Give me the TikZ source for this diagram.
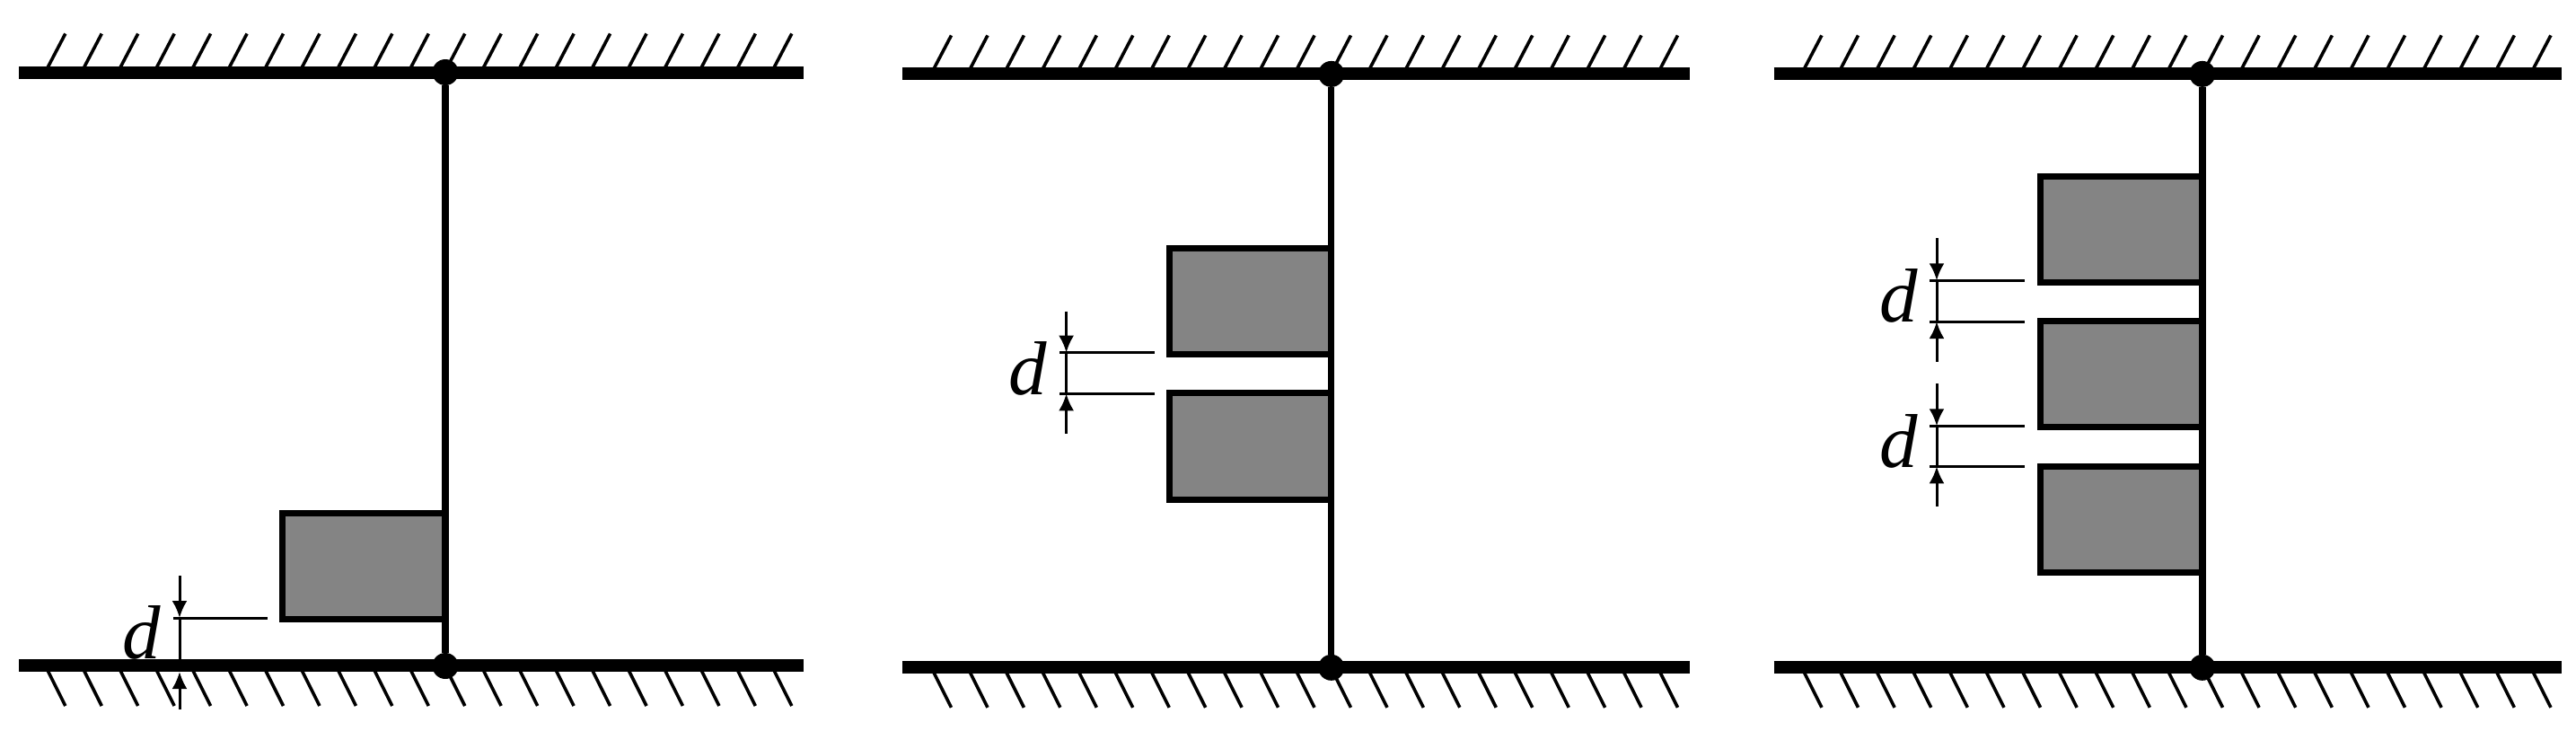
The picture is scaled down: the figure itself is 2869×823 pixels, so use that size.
\documentclass[tikz,border=0pt]{standalone}
\usepackage{fontspec}
\setmainfont{Liberation Serif}
\usetikzlibrary{arrows.meta}
\tikzset{
  wallbar/.style={line width=14pt,black},
  hatchline/.style={line width=3.6pt,black},
  rodline/.style={line width=7.5pt,black},
  pindot/.style={circle,fill=black,draw=none,minimum size=29pt,inner sep=0pt},
  blockbox/.style={rectangle,draw=black,line width=7pt,fill=blockgray,inner sep=0pt,outer sep=0pt},
  dimline/.style={line width=3pt,black},
  dimarrow/.style={line width=3pt,black,-{Latex[length=19pt,width=17pt]}},
  dlabel/.style={inner sep=0pt,anchor=base,font=\fontsize{85}{85}\selectfont\itshape},
}
\definecolor{blockgray}{HTML}{848484}
% #1 prefix, #2 xleft, #3 xright, #4 rod x, #5 top y, #6 bottom y, #7 first hatch x, #8 hatch spacing
\newcommand{\panelframe}[8]{
  \foreach \i in {0,...,20}{
    \draw[hatchline] ({#7+\i*#8},#5) -- ++(22.5,-43);
    \draw[hatchline] ({#7+\i*#8},#6) -- ++(22.5,45);
  }
  \coordinate (#1tl) at (#2,#5); \coordinate (#1tr) at (#3,#5);
  \coordinate (#1bl) at (#2,#6); \coordinate (#1br) at (#3,#6);
  \draw[wallbar] (#1tl) -- (#1tr);
  \draw[wallbar] (#1bl) -- (#1br);
  \node[pindot] (#1pt) at (#4,#5) {};
  \node[pindot] (#1pb) at (#4,#6+0.5) {};
}
% #1 name, #2 xleft, #3 xright, #4 ytop, #5 ybottom (stroke centres)
\newcommand{\block}[5]{
  \node[blockbox,minimum width={#3-#2+1.5pt},minimum height={#5-#4+3pt}] (#1) at ({(#2+#3)/2-0.75},{(#4+#5)/2}) {};
}
% #1 name, #2 x left, #3 x vertical, #4 x right, #5 y upper, #6 y lower, #7 arrow top, #8 arrow bottom
\newcommand{\gapdim}[8]{
  \coordinate (#1a) at (#3,#7); \coordinate (#1b) at (#3,#5);
  \coordinate (#1c) at (#3,#6); \coordinate (#1d) at (#3,#8);
  \coordinate (#1e) at (#2,#5); \coordinate (#1f) at (#4,#5);
  \coordinate (#1g) at (#2,#6); \coordinate (#1h) at (#4,#6);
  \draw[dimarrow] (#1a) -- (#1b);
  \draw[dimarrow] (#1d) -- (#1c);
  \draw[dimline] (#1b) -- (#1c);
  \draw[dimline] (#1e) -- (#1f);
  \draw[dimline] (#1g) -- (#1h);
}
\begin{document}
\begin{tikzpicture}[x=1pt,y=-1pt]
\useasboundingbox (0,0) rectangle (2869,823);
% Panel 1
\panelframe{A}{21}{895}{496}{80.5}{741}{50.3}{40.45}
\block{Ab}{316}{496}{573}{688}
\draw[rodline] (Apt) -- (Apb);
\coordinate (Ada) at (200,641); \coordinate (Adb) at (200,688);
\coordinate (Adc) at (200,741); \coordinate (Add) at (200,790);
\coordinate (Ade) at (193,688); \coordinate (Adf) at (298,688);
\coordinate (Adg) at (200,748);
\draw[dimarrow] (Ada) -- (Adb);
\draw[dimarrow] (Add) -- (Adg);
\draw[dimline] (Adb) -- (Adc);
\draw[dimline] (Ade) -- (Adf);
\node[dlabel] (Adl) at (158,733) {d};
% Panel 2
\panelframe{B}{1005}{1882}{1482.7}{82.4}{742.8}{1037}{40.45}
\block{Bb1}{1303.5}{1482.7}{278}{393}
\block{Bb2}{1303.5}{1482.7}{439}{554.5}
\draw[rodline] (Bpt) -- (Bpb);
\gapdim{Bd}{1180}{1187.6}{1286}{392.7}{438.3}{346.5}{483}
\node[dlabel] (Bdl) at (1144.5,439) {d};
% Panel 3
\panelframe{C}{1975.7}{2852.7}{2452.8}{82.4}{742.8}{2006.4}{40.6}
\block{Cb1}{2274}{2452.8}{198}{312.5}
\block{Cb2}{2274}{2452.8}{359}{474}
\block{Cb3}{2274}{2452.8}{520.5}{636}
\draw[rodline] (Cpt) -- (Cpb);
\gapdim{Cd}{2149.3}{2157}{2255}{312.3}{358}{265}{402.7}
\gapdim{Ce}{2149.3}{2157}{2255}{474.3}{519.3}{427.3}{564}
\node[dlabel] (Cdl) at (2115,358) {d};
\node[dlabel] (Cel) at (2115,520) {d};
\end{tikzpicture}
\end{document}
